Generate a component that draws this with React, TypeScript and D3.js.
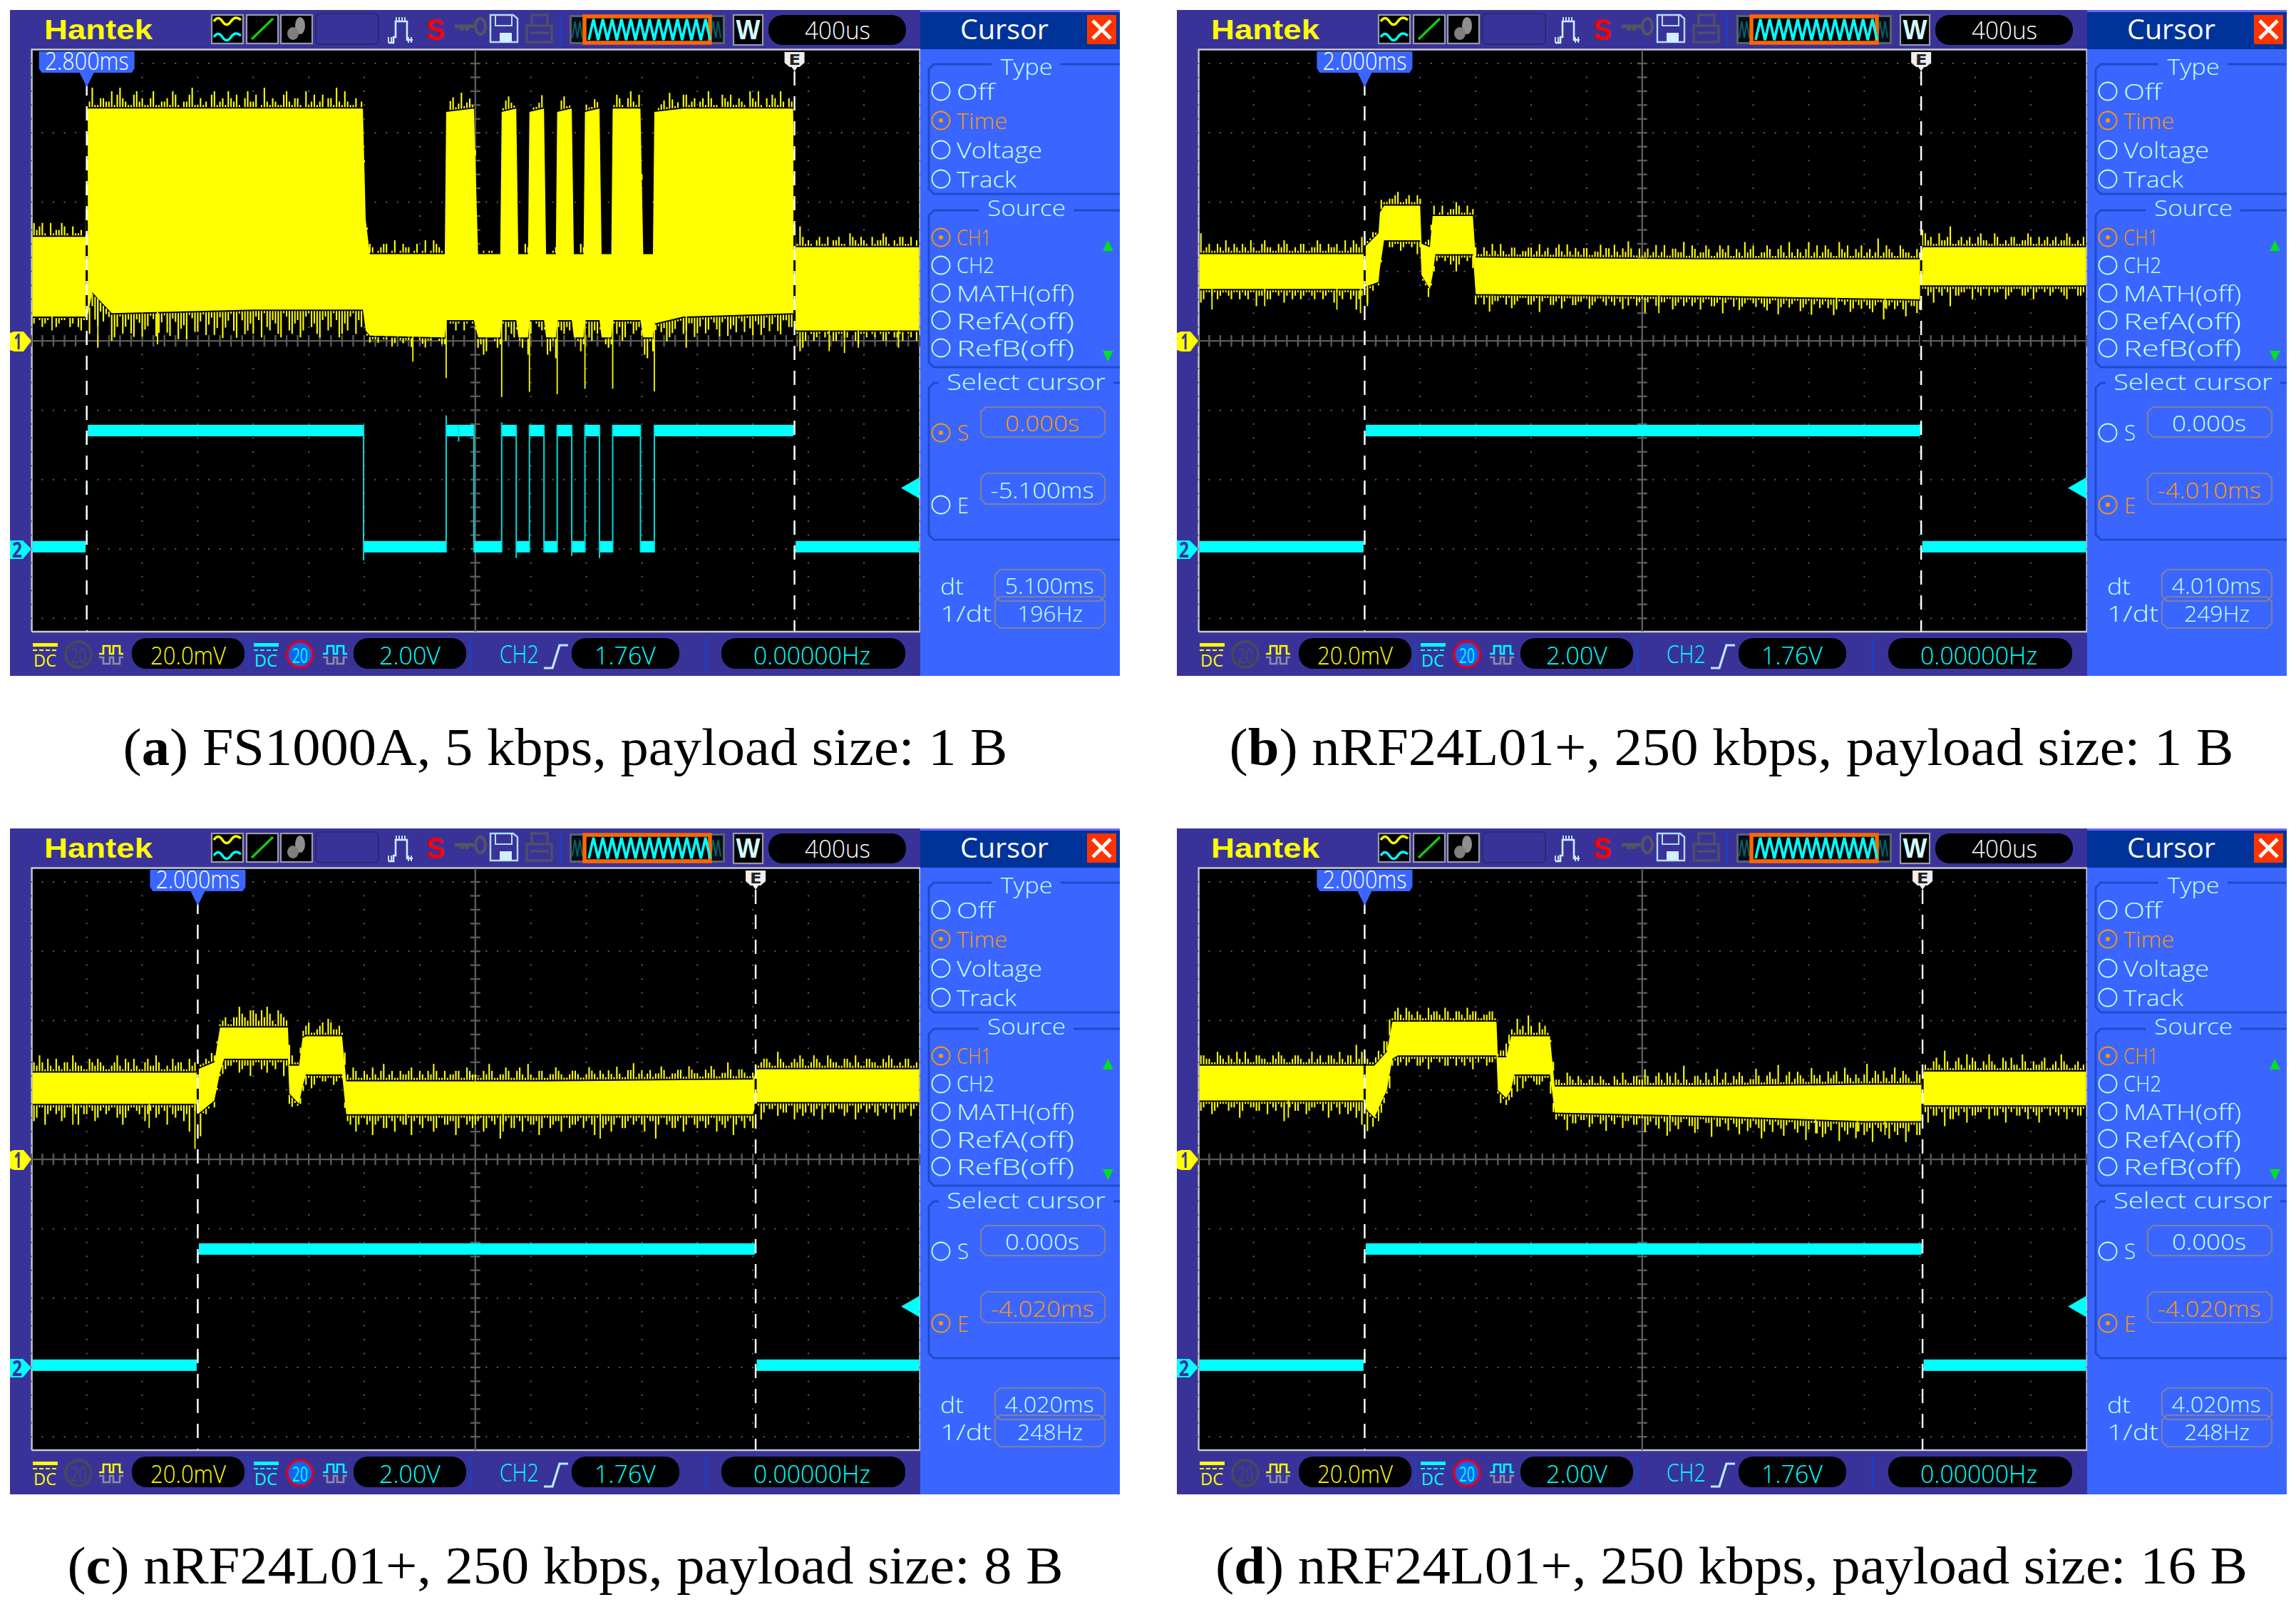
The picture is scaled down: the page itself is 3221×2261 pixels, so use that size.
import * as d3 from "d3";

type Row = [number, number, number];

// CH1 body of each capture: [time ms, top mV, bottom mV]
const bandA: Row[] = [
  [-3.2, 30, 7], [-2.81, 30, 7], [-2.8, 67, 6], [-2.76, 67, 14], [-2.62, 67, 8], [-1.6, 67, 9], [-0.81, 67, 9],
  [-0.79, 35, 3], [-0.76, 25, 1.5], [-0.22, 25, 1], [-0.21, 66, 6], [-0.01, 67, 6], [0.02, 25, 1],
  [0.18, 25, 1], [0.19, 66, 6], [0.295, 67, 6], [0.31, 25, 1], [0.38, 25, 1], [0.39, 66, 6], [0.495, 67, 6],
  [0.51, 25, 1], [0.58, 25, 1], [0.59, 66, 6], [0.695, 67, 6], [0.71, 25, 1], [0.78, 25, 1], [0.79, 66, 6],
  [0.895, 67, 6], [0.91, 25, 1], [0.98, 25, 1], [0.99, 67, 6], [1.19, 67, 6], [1.21, 25, 1], [1.28, 25, 1],
  [1.29, 66, 5], [1.5, 67, 7], [2.29, 67, 8], [2.31, 27, 3], [3.2, 27, 3],
];
const bandB: Row[] = [
  [-3.2, 25, 15], [-2.01, 25, 15], [-2, 27, 15.6], [-1.9, 31, 17], [-1.89, 37, 21], [-1.86, 39, 29],
  [-1.6, 39, 29], [-1.59, 28, 19], [-1.53, 27, 15], [-1.51, 36, 19], [-1.49, 36, 25], [-1.22, 36, 25],
  [-1.2, 24, 13.5], [0.5, 23.5, 13], [2, 23.5, 12], [2.02, 27, 16], [3.2, 27, 16],
];
const bandC: Row[] = [
  [-3.2, 25, 16], [-2.01, 25, 16], [-2, 26, 13], [-1.88, 28, 17], [-1.84, 38, 25], [-1.81, 38, 29], [-1.35, 38, 29],
  [-1.34, 27, 19], [-1.27, 27, 16], [-1.245, 35, 21], [-1.22, 35.5, 24.5], [-0.96, 35.5, 24.5],
  [-0.93, 22.5, 13], [0.5, 22.5, 13], [2, 23, 13], [2.03, 26, 16.5], [3.2, 26, 16.5],
];
const bandD: Row[] = [
  [-3.2, 27, 17], [-2.01, 27, 17], [-2, 27, 15], [-1.93, 27, 12], [-1.84, 31, 20], [-1.8, 39.7, 29], [-1.76, 39.7, 30],
  [-1.05, 39.7, 30], [-1.04, 29.4, 20], [-0.98, 29.4, 17.7], [-0.945, 35.5, 20], [-0.92, 35.5, 24.5], [-0.665, 35.5, 24.5],
  [-0.63, 21, 13.5], [0.5, 21, 12.5], [1.6, 21.5, 11], [2.01, 21.5, 11], [2.03, 25.3, 15.6], [3.2, 25.3, 15.6],
];

// Noise peaks above / below the body, mV, one every 0.02 ms across the screen
// (two runs that interleave)
const topA = [
  4, 3, 1, 4, 2, 4, 1, 3, 1, 0, 2, 1, 3, 2, 5, 4, 3, 1, 4, 2,
  1, 3, 1, 2, 3, 5, 1, 2, 4, 1, 3, 2, 4, 1, 3, 5, 2, 1, 3, 2,
  4, 1, 2, 3, 1, 4, 2, 3, 1, 5, 2, 1, 4, 3, 1, 2, 5, 1, 3, 2,
  1, 2, 1, 3, 0, 4, 1, 2, 0, 3, 1, 0, 4, 2, 0, 3, 1, 5, 2, 1,
  0, 1, 1, 0, 0, 3, 2, 0, 0, 2, 1, 2, 0, 0, 2, 3, 1, 0, 0, 2,
  1, 3, 0, 0, 0, 4, 1, 3, 2, 4, 0, 0, 0, 2, 1, 3, 2, 4, 1, 3,
  2, 1, 3, 1, 4, 2, 1, 3, 1, 5, 2, 1, 3, 4, 1, 2, 3, 0, 6, 1,
  1, 2, 1, 3, 2, 3, 1, 4, 2, 3, 1, 3, 2, 4, 1, 2, 3, 1, 3, 2,
];
const topA2 = [
  1, 2, 4, 0, 1, 2, 3, 0, 1, 2, 4, 6, 1, 3, 2, 1, 6, 2, 1, 5,
  3, 1, 5, 1, 2, 1, 4, 0, 2, 6, 1, 1, 0, 5, 2, 1, 3, 4, 0, 5,
  2, 0, 6, 1, 2, 1, 5, 1, 3, 0, 1, 4, 2, 0, 3, 6, 1, 2, 1, 0,
  1, 3, 0, 2, 3, 1, 0, 3, 2, 1, 0, 4, 1, 3, 1, 0, 4, 2, 1, 3,
  2, 0, 0, 1, 0, 1, 4, 1, 0, 3, 0, 1, 4, 0, 1, 0, 4, 1, 0, 3,
  2, 1, 2, 0, 0, 1, 3, 0, 5, 1, 2, 0, 0, 1, 3, 5, 1, 0, 4, 2,
  0, 3, 5, 1, 0, 3, 4, 1, 2, 0, 3, 5, 0, 1, 3, 5, 0, 2, 1, 3,
  2, 0, 3, 1, 0, 2, 1, 0, 3, 1, 2, 0, 1, 2, 3, 0, 1, 3, 1, 0,
];
const bottomA = [
  2, 1, 2, 0, 3, 1, 0, 2, 3, 1, 8, 7, 3, 2, 8, 4, 6, 2, 7, 3,
  5, 1, 7, 3, 6, 2, 8, 4, 1, 6, 3, 7, 2, 5, 8, 3, 6, 1, 7, 4,
  2, 8, 5, 3, 7, 1, 6, 4, 8, 2, 5, 7, 3, 6, 1, 8, 4, 2, 7, 5,
  1, 1, 2, 1, 0, 2, 1, 1, 3, 0, 2, 1, 0, 1, 2, 1, 3, 0, 1, 1,
  3, 5, 0, 1, 2, 6, 4, 1, 3, 5, 0, 2, 1, 4, 6, 3, 2, 0, 1, 2,
  5, 3, 1, 2, 2, 4, 6, 1, 4, 2, 5, 1, 2, 3, 6, 4, 1, 5, 2, 6,
  3, 5, 1, 4, 2, 6, 3, 1, 5, 4, 2, 6, 1, 3, 5, 2, 4, 1, 6, 3,
  1, 2, 0, 1, 3, 1, 2, 0, 3, 1, 2, 1, 0, 3, 1, 2, 1, 0, 2, 3,
];
const bottomA2 = [
  1, 0, 3, 1, 0, 2, 1, 3, 0, 4, 6, 4, 8, 5, 2, 7, 1, 4, 6, 2,
  7, 4, 2, 6, 1, 7, 3, 5, 8, 2, 6, 1, 4, 7, 2, 5, 1, 8, 3, 6,
  7, 3, 1, 6, 4, 8, 2, 7, 3, 6, 1, 4, 8, 2, 5, 3, 7, 6, 1, 3,
  0, 2, 1, 0, 1, 3, 0, 2, 1, 0, 1, 3, 1, 0, 2, 0, 1, 1, 3, 0,
  1, 2, 4, 0, 3, 1, 2, 5, 1, 0, 4, 1, 3, 5, 1, 2, 4, 3, 0, 4,
  1, 6, 4, 0, 3, 1, 2, 5, 1, 3, 2, 6, 4, 1, 2, 5, 3, 1, 4, 2,
  5, 1, 4, 2, 6, 1, 4, 5, 2, 1, 6, 3, 4, 5, 1, 6, 2, 4, 1, 5,
  0, 3, 1, 2, 0, 3, 1, 2, 0, 4, 1, 0, 2, 1, 3, 0, 2, 3, 1, 0,
];
const topB = [
  6, 2, 1, 3, 1, 2, 3, 1, 2, 4, 1, 3, 2, 1, 3, 4, 1, 2, 3, 1,
  2, 4, 1, 3, 2, 1, 4, 2, 3, 5, 1, 2, 0, 1, 2, 3, 1, 2, 1, 3,
  0, 2, 3, 1, 0, 2, 4, 1, 3, 2, 1, 3, 1, 2, 4, 1, 3, 1, 2, 3,
  1, 4, 2, 1, 3, 2, 4, 1, 2, 3, 1, 2, 4, 3, 1, 2, 3, 5, 1, 3,
  2, 1, 4, 2, 1, 3, 2, 5, 1, 3, 2, 4, 1, 2, 3, 4, 1, 2, 5, 3,
  1, 2, 4, 1, 3, 2, 5, 1, 2, 3, 1, 4, 2, 3, 1, 5, 2, 1, 3, 4,
  2, 1, 6, 2, 3, 1, 4, 2, 1, 3, 5, 2, 1, 4, 2, 6, 1, 3, 2, 1,
  3, 2, 1, 4, 1, 2, 3, 1, 2, 4, 1, 3, 2, 1, 3, 2, 4, 1, 2, 3,
];
const topB2 = [
  2, 1, 3, 1, 2, 4, 1, 2, 3, 1, 2, 1, 4, 2, 1, 2, 3, 1, 1, 3,
  1, 2, 3, 1, 2, 3, 1, 1, 4, 2, 3, 1, 1, 3, 1, 2, 4, 1, 3, 1,
  2, 1, 2, 0, 3, 1, 2, 3, 1, 1, 3, 1, 2, 4, 1, 2, 1, 3, 1, 2,
  3, 2, 1, 3, 1, 4, 1, 2, 3, 1, 3, 1, 2, 1, 3, 4, 1, 2, 3, 1,
  1, 3, 2, 1, 4, 1, 3, 2, 1, 4, 1, 2, 3, 1, 4, 2, 1, 3, 1, 2,
  4, 1, 2, 3, 1, 4, 1, 2, 3, 1, 5, 2, 1, 4, 2, 1, 3, 4, 1, 2,
  1, 3, 2, 1, 4, 2, 1, 3, 2, 1, 2, 4, 3, 1, 2, 3, 1, 2, 1, 3,
  1, 4, 2, 1, 3, 1, 1, 3, 1, 2, 3, 1, 1, 3, 2, 1, 2, 3, 1, 1,
];
const bottomB = [
  4, 1, 2, 3, 1, 2, 1, 3, 2, 1, 5, 2, 3, 1, 2, 4, 1, 2, 3, 1,
  2, 1, 3, 1, 4, 2, 1, 3, 6, 2, 5, 2, 1, 0, 2, 1, 3, 1, 2, 4,
  1, 3, 2, 1, 2, 3, 5, 1, 2, 4, 1, 3, 5, 2, 1, 3, 4, 2, 1, 3,
  2, 5, 1, 3, 2, 4, 1, 3, 2, 1, 4, 2, 1, 3, 2, 1, 4, 3, 1, 2,
  5, 1, 3, 2, 1, 4, 2, 3, 1, 2, 4, 1, 3, 2, 5, 1, 3, 4, 2, 1,
  3, 2, 4, 1, 5, 2, 3, 1, 4, 2, 5, 1, 2, 3, 5, 1, 2, 4, 1, 3,
  2, 4, 1, 6, 2, 3, 1, 5, 2, 4, 1, 3, 5, 2, 1, 6, 3, 2, 1, 4,
  2, 1, 3, 2, 1, 4, 2, 1, 3, 2, 4, 1, 2, 3, 1, 2, 4, 1, 3, 2,
];
const bottomB2 = [
  1, 3, 1, 1, 2, 1, 3, 1, 1, 3, 1, 2, 1, 3, 1, 1, 2, 3, 1, 2,
  1, 3, 1, 2, 1, 1, 3, 1, 2, 3, 1, 1, 0, 1, 0, 2, 1, 2, 1, 1,
  2, 1, 1, 2, 1, 1, 2, 3, 1, 1, 3, 1, 1, 3, 2, 1, 1, 3, 1, 1,
  3, 1, 2, 1, 3, 1, 2, 1, 3, 2, 1, 3, 1, 2, 1, 3, 2, 1, 1, 3,
  1, 2, 1, 3, 2, 1, 3, 1, 2, 3, 1, 2, 1, 3, 1, 2, 1, 1, 3, 1,
  2, 1, 3, 2, 1, 3, 1, 2, 1, 3, 1, 2, 3, 1, 2, 3, 1, 1, 3, 2,
  1, 3, 2, 1, 3, 1, 2, 3, 1, 2, 3, 1, 2, 1, 3, 2, 1, 3, 2, 1,
  1, 3, 1, 1, 2, 1, 3, 1, 1, 3, 1, 2, 1, 1, 2, 1, 3, 1, 1, 3,
];
const topC = [
  3, 5, 1, 2, 4, 1, 3, 5, 2, 1, 4, 2, 3, 1, 2, 5, 1, 3, 4, 1,
  3, 2, 5, 1, 2, 4, 3, 1, 4, 3, 1, 2, 3, 1, 2, 1, 3, 6, 3, 5,
  4, 5, 6, 2, 5, 3, 6, 1, 2, 3, 1, 2, 4, 5, 2, 3, 4, 1, 3, 1,
  2, 4, 1, 5, 2, 1, 3, 2, 4, 1, 2, 3, 5, 1, 3, 2, 3, 1, 4, 2,
  1, 3, 5, 1, 2, 4, 1, 3, 2, 5, 1, 3, 1, 2, 4, 2, 1, 3, 2, 1,
  4, 2, 3, 1, 2, 4, 1, 3, 5, 2, 1, 3, 2, 4, 1, 2, 3, 1, 4, 2,
  1, 3, 4, 1, 2, 5, 1, 3, 2, 1, 4, 2, 3, 1, 5, 2, 1, 3, 4, 1,
  2, 3, 1, 4, 2, 1, 3, 2, 4, 1, 3, 2, 1, 3, 4, 1, 2, 3, 1, 2,
];
const topC2 = [
  1, 2, 3, 4, 1, 2, 3, 1, 3, 2, 1, 3, 4, 2, 1, 3, 2, 4, 1, 2,
  1, 4, 2, 3, 1, 1, 2, 3, 1, 2, 4, 1, 1, 2, 1, 3, 1, 3, 4, 2,
  5, 2, 3, 4, 1, 4, 2, 3, 1, 2, 4, 1, 3, 1, 4, 2, 1, 2, 4, 1,
  3, 1, 2, 3, 1, 3, 1, 2, 3, 1, 3, 1, 2, 3, 1, 1, 2, 3, 1, 3,
  2, 1, 2, 3, 1, 2, 3, 1, 4, 1, 2, 1, 3, 1, 2, 3, 1, 2, 3, 1,
  2, 3, 1, 2, 3, 1, 2, 1, 3, 1, 3, 2, 1, 2, 3, 1, 2, 3, 1, 3,
  2, 1, 2, 3, 1, 2, 3, 1, 3, 1, 2, 1, 3, 2, 1, 3, 1, 2, 2, 3,
  1, 4, 2, 1, 3, 2, 1, 3, 1, 2, 1, 3, 2, 1, 2, 3, 1, 1, 3, 1,
];
const bottomC = [
  5, 1, 6, 2, 3, 5, 1, 2, 6, 3, 1, 5, 2, 3, 1, 4, 6, 2, 1, 3,
  5, 2, 4, 1, 6, 3, 2, 5, 8, 2, 7, 2, 0, 1, 3, 2, 1, 4, 2, 5,
  1, 3, 4, 2, 1, 5, 3, 1, 2, 3, 4, 1, 2, 1, 3, 1, 2, 3, 5, 1,
  3, 6, 2, 4, 1, 5, 2, 3, 6, 1, 4, 2, 5, 1, 3, 2, 6, 1, 3, 4,
  2, 5, 1, 3, 7, 2, 4, 1, 5, 2, 3, 6, 1, 4, 2, 5, 1, 3, 2, 4,
  1, 6, 2, 3, 5, 1, 4, 2, 3, 1, 5, 2, 7, 1, 3, 4, 2, 5, 1, 3,
  2, 4, 1, 5, 3, 2, 6, 1, 4, 2, 3, 5, 1, 2, 4, 3, 1, 5, 2, 3,
  3, 2, 5, 1, 3, 2, 4, 1, 5, 2, 3, 1, 4, 2, 1, 5, 3, 2, 4, 1,
];
const bottomC2 = [
  2, 4, 1, 3, 1, 2, 4, 1, 3, 1, 3, 2, 4, 1, 2, 1, 3, 4, 1, 2,
  1, 3, 1, 3, 2, 1, 4, 2, 3, 1, 2, 1, 1, 2, 1, 3, 2, 1, 3, 2,
  2, 1, 2, 1, 3, 1, 2, 3, 1, 2, 1, 3, 1, 2, 1, 2, 1, 2, 1, 3,
  1, 2, 3, 1, 4, 2, 1, 3, 1, 2, 3, 1, 2, 4, 1, 3, 2, 4, 1, 2,
  3, 1, 4, 2, 1, 3, 1, 4, 2, 1, 3, 2, 4, 1, 3, 2, 1, 4, 3, 1,
  2, 3, 1, 4, 2, 3, 1, 4, 1, 2, 3, 1, 2, 3, 1, 2, 4, 1, 3, 1,
  4, 2, 3, 1, 2, 4, 1, 3, 2, 1, 4, 1, 3, 2, 1, 2, 3, 1, 3, 4,
  1, 4, 1, 2, 3, 1, 2, 3, 1, 3, 1, 2, 3, 1, 3, 2, 1, 3, 1, 2,
];
const topD = [
  3, 2, 1, 4, 2, 3, 1, 2, 4, 1, 3, 2, 1, 3, 4, 2, 1, 3, 2, 1,
  4, 2, 1, 3, 2, 4, 1, 3, 6, 4, 2, 1, 3, 4, 5, 3, 2, 4, 2, 3,
  1, 4, 3, 2, 4, 1, 3, 2, 4, 3, 1, 2, 3, 1, 2, 4, 2, 5, 3, 6,
  1, 4, 3, 1, 2, 1, 4, 2, 3, 1, 2, 1, 3, 1, 0, 2, 4, 1, 3, 2,
  5, 1, 3, 2, 4, 1, 2, 6, 1, 3, 2, 4, 1, 5, 2, 1, 3, 4, 1, 2,
  5, 1, 3, 2, 6, 1, 4, 2, 3, 1, 5, 2, 1, 4, 3, 1, 5, 2, 3, 1,
  6, 2, 3, 4, 1, 5, 2, 3, 1, 4, 5, 1, 3, 2, 6, 1, 3, 2, 5, 4,
  1, 3, 5, 2, 1, 3, 4, 2, 5, 1, 3, 2, 4, 1, 3, 5, 2, 1, 3, 2,
];
const topD2 = [
  1, 3, 2, 1, 3, 1, 2, 4, 1, 2, 1, 3, 2, 1, 2, 3, 1, 2, 3, 1,
  2, 1, 3, 1, 3, 1, 2, 3, 1, 2, 3, 1, 2, 1, 3, 1, 4, 1, 3, 1,
  2, 1, 2, 3, 1, 3, 1, 3, 1, 2, 3, 1, 2, 3, 1, 2, 3, 1, 2, 1,
  3, 1, 2, 1, 3, 2, 1, 3, 1, 2, 1, 3, 1, 2, 1, 3, 1, 2, 1, 3,
  2, 3, 1, 4, 1, 3, 4, 1, 2, 1, 3, 1, 2, 3, 1, 4, 1, 2, 3, 1,
  2, 3, 1, 4, 2, 1, 3, 1, 4, 2, 1, 3, 3, 1, 2, 4, 1, 3, 1, 2,
  3, 1, 4, 1, 2, 3, 1, 4, 2, 1, 3, 2, 1, 4, 1, 3, 1, 4, 1, 2,
  3, 1, 2, 3, 1, 4, 1, 2, 1, 3, 1, 2, 3, 1, 2, 1, 3, 1, 2, 1,
];
const bottomD = [
  3, 1, 4, 2, 1, 3, 2, 5, 1, 2, 3, 1, 4, 2, 1, 6, 2, 3, 1, 4,
  2, 1, 3, 5, 1, 4, 2, 3, 5, 7, 6, 3, 2, 2, 4, 1, 2, 3, 1, 3,
  2, 4, 1, 2, 3, 1, 3, 2, 1, 4, 2, 1, 2, 1, 3, 2, 3, 5, 4, 1,
  2, 3, 1, 4, 2, 1, 5, 3, 1, 2, 4, 1, 3, 5, 2, 1, 4, 2, 3, 1,
  5, 2, 3, 1, 6, 2, 4, 1, 3, 5, 1, 2, 6, 3, 1, 4, 2, 5, 1, 3,
  2, 6, 1, 4, 2, 5, 1, 3, 2, 6, 1, 4, 5, 2, 1, 6, 3, 2, 5, 1,
  3, 6, 2, 1, 5, 3, 2, 6, 1, 4, 2, 5, 3, 1, 6, 4, 2, 1, 5, 3,
  2, 1, 4, 3, 1, 5, 2, 3, 1, 4, 2, 5, 1, 3, 2, 1, 4, 2, 3, 1,
];
const bottomD2 = [
  1, 2, 1, 3, 1, 1, 2, 1, 3, 1, 2, 3, 1, 1, 3, 2, 1, 1, 3, 1,
  3, 2, 1, 1, 3, 2, 1, 4, 2, 3, 2, 1, 1, 3, 1, 2, 3, 1, 2, 1,
  3, 1, 2, 1, 1, 3, 1, 1, 3, 2, 1, 1, 3, 2, 1, 1, 2, 3, 1, 2,
  1, 3, 2, 1, 3, 1, 2, 1, 3, 2, 1, 3, 1, 2, 1, 3, 1, 2, 1, 3,
  1, 3, 1, 4, 2, 1, 3, 2, 1, 3, 4, 1, 2, 1, 3, 2, 1, 3, 2, 4,
  1, 3, 4, 2, 1, 3, 2, 1, 4, 2, 3, 1, 2, 4, 3, 1, 2, 4, 2, 3,
  4, 2, 1, 3, 2, 1, 4, 2, 3, 1, 4, 2, 1, 3, 2, 1, 4, 3, 2, 1,
  3, 2, 1, 1, 3, 2, 1, 1, 3, 2, 1, 3, 2, 1, 1, 3, 2, 1, 1, 3,
];

// Long dips of CH1: [time ms, lowest mV]
const dipsA: [number, number][] = [
  [-3.05, 3], [-2.72, -2], [-2.29, -1], [-0.45, -6], [-0.21, -10.7], [0.19, -16.2], [0.39, -14.7], [0.59, -15.4],
  [0.79, -13.8], [0.99, -13.8], [1.29, -14.6], [1.52, -2], [2.55, -3], [2.66, -3.5], [2.76, -2], [3.05, -2],
];
const dipsB: [number, number][] = [[-3.1, 9], [-2.72, 10], [-2.2, 9], [-2.03, 8], [-1.98, 10], [0.12, 8], [1.4, 9], [1.75, 9.5]];
const dipsC: [number, number][] = [[-2.9, 10], [-2.35, 9], [-2.02, 3], [-0.5, 10], [0.2, 8], [0.9, 6]];
const dipsD: [number, number][] = [[-2.55, 12], [-2, 10], [-1.9, 11], [0.2, 8], [1.25, 7.5], [1.55, 8], [1.75, 7]];

// CH2 edges, ms: rise, fall, rise, ...
const edgesA = [-2.8, -0.805, -0.21, -0.01, 0.19, 0.295, 0.39, 0.495, 0.59, 0.695, 0.79, 0.895, 0.99, 1.19, 1.29, 2.3];
const edgesB = [-2.0, 2.01];
const edgesC = [-2.0, 2.02];
const edgesD = [-2.0, 2.02];
const glitchesA: [number, number][] = [[-0.805, -0.33], [-0.21, 3.85], [0.295, -0.26], [0.19, 3.65], [0.695, -0.2], [0.895, -0.26], [-0.12, 3.1]];
const ch2High = [3.25, 3.58];
const ch2Low = [-0.1, 0.23];

const cursorStart = [-2.8, -2.0, -2.0, -2.0];
const cursorEnd = [2.3, 2.01, 2.02, 2.02];
const startLabels = ["2.800ms", "2.000ms", "2.000ms", "2.000ms"];
const endValues = ["-5.100ms", "-4.010ms", "-4.020ms", "-4.020ms"];
const dtValues = ["5.100ms", "4.010ms", "4.020ms", "4.020ms"];
const freqValues = ["196Hz", "249Hz", "248Hz", "248Hz"];
const captionLetters = ["a", "b", "c", "d"];
const captionTexts = [
  "FS1000A, 5 kbps, payload size: 1 B",
  "nRF24L01+, 250 kbps, payload size: 1 B",
  "nRF24L01+, 250 kbps, payload size: 8 B",
  "nRF24L01+, 250 kbps, payload size: 16 B",
];

const bands = [bandA, bandB, bandC, bandD];
const tops = [topA, topB, topC, topD];
const tops2 = [topA2, topB2, topC2, topD2];
const bottoms = [bottomA, bottomB, bottomC, bottomD];
const bottoms2 = [bottomA2, bottomB2, bottomC2, bottomD2];
const dips = [dipsA, dipsB, dipsC, dipsD];
const edges = [edgesA, edgesB, edgesC, edgesD];
const glitches = [glitchesA, [], [], []] as [number, number][][];

const panelDx = [0, 1637, 0, 1637];
const panelDy = [0, 0, 1148, 1148];
const captionX = [793, 2429, 793, 2429];
const captionWidth = [1241, 1409, 1397, 1448];

// scales
const xTime = d3.scaleLinear().domain([-3.2, 3.2]).range([43.8, 1289.8]);
const yCh1 = d3.scaleLinear().domain([-80, 80]).range([867.2, 89]);
const yCh2 = d3.scaleLinear().domain([0, 2]).range([770, 672.7]);

const PURPLE = "#393399";
const BLUE = "#3A66FF";
const ICE = "#CCFFFF";
const ORANGE = "#FF9900";
const YELLOW = "#FFFF00";
const CYAN = "#00FFFF";
const LCD = "'Open Sans', 'Liberation Sans', sans-serif";

const bodyArea = d3
  .area<Row>()
  .x((d) => xTime(d[0]))
  .y0((d) => yCh1(d[2]))
  .y1((d) => yCh1(d[1]));

// body limit at time t, column 1 = top, 2 = bottom
const bandAt = (band: Row[], t: number, col: 1 | 2) => {
  const i = Math.min(d3.bisectRight(band.map((r) => r[0]), t), band.length - 1);
  const a = band[Math.max(i - 1, 0)];
  const b = band[i];
  if (b[0] === a[0]) return b[col];
  return d3.interpolateNumber(a[col], b[col])((t - a[0]) / (b[0] - a[0]));
};

const spikePath = (band: Row[], values: number[], col: 1 | 2, sign: number, shift: number) => {
  const p = d3.path();
  values.forEach((v, i) => {
    if (!v) return;
    const t = -3.2 + 0.04 * i + shift;
    const edge = bandAt(band, t, col);
    p.moveTo(xTime(t), yCh1(edge) + sign * 2);
    p.lineTo(xTime(t), yCh1(edge + (sign < 0 ? v : -v)));
  });
  return p.toString();
};

const dotPath = (xs: number[], ys: number[]) => {
  let s = "";
  xs.forEach((x) => ys.forEach((y) => (s += `M${x - 1} ${y - 1}h2v2h-2z`)));
  return s;
};

const tenths = d3.range(0, 81).map((k) => -3.2 + k * 0.08);
const divsX = d3.range(0, 17).map((k) => -3.2 + k * 0.4);
const rowsV = d3.range(-80, 81, 20);
const stepsV = d3.range(-80, 81, 4);

const gridDots =
  dotPath(tenths.map(xTime), rowsV.map(yCh1)) + dotPath(divsX.map(xTime), stepsV.map(yCh1));

const Txt = ({ x, y, w, size, fill = ICE, anchor = "start", weight = 300, family = LCD, children }: any) => (
  <text
    x={x}
    y={y}
    fontSize={size}
    fill={fill}
    textAnchor={anchor}
    fontWeight={weight}
    fontFamily={family}
    textLength={w}
    lengthAdjust="spacingAndGlyphs"
  >
    {children}
  </text>
);

const Radio = ({ cy, on }: { cy: number; on: boolean }) => (
  <g>
    <circle cx={1320} cy={cy} r={12.5} fill="none" stroke={on ? ORANGE : ICE} strokeWidth={1.8} />
    {on && <circle cx={1320} cy={cy} r={3} fill={ORANGE} />}
  </g>
);

const GroupBox = ({ top, bottom, gap }: { top: number; bottom: number; gap: [number, number] }) => (
  <path
    d={`M${gap[0]} ${top}H1310L1303 ${top + 7}V${bottom - 7}L1310 ${bottom}H1571M${gap[1]} ${top}H1571`}
    fill="none"
    stroke="#2149c9"
    strokeWidth={3}
  />
);

const ValueBox = ({ x0, x1, y0, y1 }: { x0: number; x1: number; y0: number; y1: number }) => (
  <path
    d={`M${x0 + 7} ${y0}H${x1 - 7}L${x1} ${y0 + 7}V${y1 - 7}L${x1 - 7} ${y1}H${x0 + 7}L${x0} ${y1 - 7}V${y0 + 7}Z`}
    fill="none"
    stroke="#7f7f9f"
    strokeWidth={2.2}
  />
);

const memoryWave = d3
  .line<number>()
  .x((k) => 826 + k * 6.55)
  .y((k) => (k % 2 ? 27 : 56))(d3.range(0, 27)) as string;

const sideWave = (x0: number) =>
  d3
    .line<number>()
    .x((k) => x0 + k * 3.5)
    .y((k) => (k % 2 ? 30 : 53))(d3.range(0, 5)) as string;

const CouplingIcon = ({ x, color }: { x: number; color: string }) => (
  <g fill="none" strokeWidth={2.6}>
    <path d={`M${x} 917h6v-11h9v11h5v-11h9v11h5`} stroke={color} />
    <path d={`M${x} 922h6v9h9v-9h5v9h9v-9h5`} stroke="#8d8da8" />
  </g>
);

const DcIcon = ({ x, color }: { x: number; color: string }) => (
  <g>
    <rect x={x} y={902} width={35} height={5} fill={color} />
    <path d={`M${x} 912H${x + 35}`} stroke={color} strokeWidth={2} strokeDasharray="6 3" />
    <Txt x={x + 17} y={935} w={32} size={24} fill={color} anchor="middle" weight={400}>
      DC
    </Txt>
  </g>
);

const Pill = ({ x0, x1, y0 = 895, y1 = 938 }: any) => (
  <rect x={x0} y={y0} width={x1 - x0} height={y1 - y0} rx={20} fill="#000" />
);

const Scope = ({ i }: { i: number }) => {
  const band = bands[i];
  const sx = xTime(cursorStart[i]);
  const ex = xTime(cursorEnd[i]);
  const clip = `screen-${i}`;
  const ed = edges[i];
  const selS = i === 0;
  const highY = yCh2(ch2High[1]);
  const highH = yCh2(ch2High[0]) - highY;
  const lowY = yCh2(ch2Low[1]);
  const lowH = yCh2(ch2Low[0]) - lowY;
  const allEdges = [-3.2, ...ed, 3.2];
  return (
    <g transform={`translate(${panelDx[i]},${panelDy[i]})`}>
      <rect x={14} y={14} width={1557} height={934} fill={PURPLE} />

      {/* screen */}
      <rect x={44.6} y={70} width={1246} height={816} fill="#000" />
      <path d="M44.6 886V69.5H1290.6V886H44.6" fill="none" stroke="#c9c9d2" strokeWidth={2.4} />
      <clipPath id={clip}>
        <rect x={45.6} y={71} width={1244} height={814} />
      </clipPath>
      <path d={gridDots} fill="#5f5f5f" />
      <g stroke="#5a5a5a" strokeWidth={2.4}>
        <line x1={xTime(0)} x2={xTime(0)} y1={70} y2={886} />
        <line x1={44.6} x2={1290.6} y1={yCh1(0)} y2={yCh1(0)} />
        {stepsV.map((v) => (
          <line key={v} x1={xTime(0) - 7} x2={xTime(0) + 7} y1={yCh1(v)} y2={yCh1(v)} />
        ))}
        {tenths.map((t) => (
          <line key={t} x1={xTime(t)} x2={xTime(t)} y1={yCh1(0) - 8} y2={yCh1(0) + 8} />
        ))}
      </g>

      {/* CH1 */}
      <g clipPath={`url(#${clip})`}>
        <path d={bodyArea(band) as string} fill={YELLOW} />
        <g stroke={YELLOW} strokeWidth={2.1} fill="none">
          <path d={spikePath(band, tops[i], 1, -1, 0.02)} />
          <path d={spikePath(band, tops2[i], 1, -1, 0)} />
          <path d={spikePath(band, bottoms[i], 2, 1, 0.02)} />
          <path d={spikePath(band, bottoms2[i], 2, 1, 0)} />
        </g>
        {dips[i].map(([t, v]) => (
          <line key={t} x1={xTime(t)} x2={xTime(t)} y1={yCh1(bandAt(band, t, 2))} y2={yCh1(v)} stroke={YELLOW} strokeWidth={1.8} />
        ))}

        {/* CH2 */}
        {allEdges.slice(0, -1).map((t, k) => (
          <rect
            key={t}
            x={xTime(t)}
            width={xTime(allEdges[k + 1]) - xTime(t)}
            y={k % 2 ? highY : lowY}
            height={k % 2 ? highH : lowH}
            fill={CYAN}
          />
        ))}
        {ed.map((t) => (
          <line key={t} x1={xTime(t)} x2={xTime(t)} y1={highY} y2={lowY + lowH} stroke="#00dcdc" strokeWidth={2} />
        ))}
        {glitches[i].map(([t, v]) => (
          <line key={t} x1={xTime(t)} x2={xTime(t)} y1={yCh2(v)} y2={v > 1 ? highY : lowY + lowH} stroke="#00dcdc" strokeWidth={2} />
        ))}
      </g>

      {/* cursors */}
      {[sx, ex].map((cx, k) => (
        <g key={k}>
          <line x1={cx} x2={cx} y1={k ? 100 : 114} y2={886} stroke="#000" strokeWidth={3} strokeDasharray="20 15" strokeDashoffset={-20} />
          <line x1={cx} x2={cx} y1={k ? 100 : 114} y2={886} stroke="#fff" strokeWidth={2.4} strokeDasharray="20 15" />
        </g>
      ))}
      <path
        d={`M${sx - 67} 72H${sx + 67}V96L${sx + 63} 102H${sx + 10}L${sx} 122L${sx - 10} 102H${sx - 63}L${sx - 67} 96Z`}
        fill={BLUE}
      />
      <Txt x={sx} y={98} w={118} size={34} fill="#fff" anchor="middle">
        {startLabels[i]}
      </Txt>
      <path d={`M${ex - 14} 73H${ex + 14}V88L${ex + 7} 94H${ex + 4}L${ex} 100L${ex - 4} 94H${ex - 7}L${ex - 14} 88Z`} fill="#eee" />
      <Txt x={ex} y={91} w={17} size={22} fill="#222" anchor="middle" weight={700}>
        E
      </Txt>

      {/* channel markers */}
      <path d={`M14 ${yCh1(0) - 11}L20 ${yCh1(0) - 13}H33L44 ${yCh1(0)}L33 ${yCh1(0) + 15}H20L14 ${yCh1(0) + 13}Z`} fill={YELLOW} />
      <Txt x={25} y={yCh1(0) + 12} w={11} size={30} fill={PURPLE} anchor="middle" weight={700}>
        1
      </Txt>
      <path d={`M14 ${yCh2(0) - 12}H32L44 ${yCh2(0)}L32 ${yCh2(0) + 14}H14Z`} fill={CYAN} />
      <Txt x={24} y={yCh2(0) + 12} w={14} size={30} fill={PURPLE} anchor="middle" weight={700}>
        2
      </Txt>
      <path d={`M1290 ${yCh2(1.76) - 15}V${yCh2(1.76) + 15}L1264 ${yCh2(1.76)}Z`} fill={CYAN} />

      {/* top bar */}
      <Txt x={62} y={55} w={152} size={38} fill={YELLOW} weight={700} family="'Liberation Sans', sans-serif">
        Hantek
      </Txt>
      {[297, 346, 394].map((bx) => (
        <rect key={bx} x={bx} y={21} width={44} height={40} fill="#000" stroke="#9a9aa8" strokeWidth={2.2} />
      ))}
      <path d="M300 30q6 -9 12 0t12 0t14 -2" fill="none" stroke={YELLOW} strokeWidth={3.4} />
      <path d="M300 52q6 -9 12 0t12 0t14 -2" fill="none" stroke={CYAN} strokeWidth={3.4} />
      <line x1={353} y1={55} x2={383} y2={26} stroke="#11cc11" strokeWidth={3.4} />
      <ellipse cx={421} cy={36} rx={7} ry={12} fill="#8f8f8f" />
      <ellipse cx={411} cy={47} rx={8} ry={9} fill="#7f7f7f" />
      <rect x={443} y={19} width={88} height={43} rx={6} fill="none" stroke="#2a2a70" strokeWidth={2} />
      <path d="M545 60h7v-8h3V30h16v26h8" fill="none" stroke="#cfefff" strokeWidth={2.6} />
      <path d="M556 24v6m4 -6v6m4 -6v6m4 -6v6M545 52v8m4 -8v8M573 52v8m4 -8v8" stroke="#cfefff" strokeWidth={1.8} />
      <Txt x={611} y={56} w={26} size={42} fill="#ff0000" anchor="middle" weight={700} family="'Liberation Sans', sans-serif">
        S
      </Txt>
      <path d="M638 37H665M648 37v6M655 37v6" stroke="#55555f" strokeWidth={5} fill="none" />
      <ellipse cx={674} cy={37} rx={7} ry={11} fill="none" stroke="#55555f" strokeWidth={4} />
      <path d="M688 21h32l6 5v33h-38z" fill="none" stroke="#b4ddf2" strokeWidth={2.4} />
      <rect x={701} y={46} width={17} height={13} fill="#cfefff" />
      <path d="M695 22v14h23V22" fill="none" stroke="#b4ddf2" strokeWidth={2} />
      <path d="M746 35V21h22v14M739 36h35v23h-35zM744 46h26" fill="none" stroke="#4f4f66" strokeWidth={3.4} />
      <line x1={786} x2={786} y1={17} y2={66} stroke="#1144cc" strokeWidth={2} />
      <rect x={799} y={21} width={218} height={41} fill="#60606a" />
      <rect x={802} y={24} width={212} height={35} fill="#041018" />
      <path d={sideWave(803)} fill="none" stroke="#0d5c66" strokeWidth={2} />
      <path d={sideWave(997)} fill="none" stroke="#0d5c66" strokeWidth={2} />
      <rect x={820} y={23} width={176} height={37} fill="#000" stroke="#FF6600" strokeWidth={5.5} />
      <path d={memoryWave} fill="none" stroke={CYAN} strokeWidth={3.6} />
      <rect x={1029} y={21} width={41} height={42} fill="#000" stroke="#9a9aa8" strokeWidth={2.2} />
      <Txt x={1049.5} y={55} w={34} size={38} fill="#d4ffff" anchor="middle" weight={700} family="'Liberation Sans', sans-serif">
        W
      </Txt>
      <rect x={1078} y={21} width={193} height={42} rx={20} fill="#000" />
      <Txt x={1175} y={55} w={92} size={34} fill="#fff" anchor="middle">
        400us
      </Txt>

      {/* bottom bar */}
      <DcIcon x={46} color={YELLOW} />
      <ellipse cx={110} cy={918} rx={18} ry={18} fill="none" stroke="#4a4a55" strokeWidth={3.4} />
      <Txt x={110} y={930} w={22} size={30} fill="#4a4a55" anchor="middle" weight={400}>
        20
      </Txt>
      <CouplingIcon x={139} color={YELLOW} />
      <Pill x0={185} x1={343} />
      <Txt x={264} y={932} w={106} size={34} fill={YELLOW} anchor="middle">
        20.0mV
      </Txt>
      <line x1={348.5} x2={348.5} y1={893} y2={943} stroke="#1144cc" strokeWidth={2} />
      <DcIcon x={356} color={CYAN} />
      <ellipse cx={421} cy={918} rx={18} ry={18} fill="#1166ee" stroke="#dd0022" strokeWidth={3.4} />
      <Txt x={421} y={930} w={22} size={30} fill={CYAN} anchor="middle" weight={400}>
        20
      </Txt>
      <CouplingIcon x={453} color={CYAN} />
      <Pill x0={496} x1={654} />
      <Txt x={575} y={932} w={86} size={34} fill={CYAN} anchor="middle">
        2.00V
      </Txt>
      <line x1={660} x2={660} y1={893} y2={943} stroke="#1144cc" strokeWidth={2} />
      <Txt x={701} y={930} w={55} size={34} fill={CYAN}>
        CH2
      </Txt>
      <path d="M763 937H775L785 905H797" fill="none" stroke="#bfeaff" strokeWidth={3.2} />
      <Pill x0={802} x1={953} />
      <Txt x={877} y={932} w={86} size={34} fill={CYAN} anchor="middle">
        1.76V
      </Txt>
      <line x1={990} x2={990} y1={893} y2={943} stroke="#1144cc" strokeWidth={2} />
      <Pill x0={1012} x1={1270} />
      <Txt x={1139} y={932} w={164} size={34} fill={CYAN} anchor="middle">
        0.00000Hz
      </Txt>

      {/* cursor menu */}
      <rect x={1291} y={14} width={280} height={934} fill={BLUE} />
      <rect x={1291} y={17} width={280} height={52} fill="#003399" />
      <rect x={1291} y={14} width={280} height={3} fill="#6a66ff" />
      <Txt x={1409} y={55} w={124} size={38} fill="#fff" anchor="middle" weight={400}>
        Cursor
      </Txt>
      <rect x={1525} y={21} width={41} height={41} fill="#FF3300" />
      <path d="M1533 29L1558 54M1558 29L1533 54" stroke="#fff" strokeWidth={5} />

      <GroupBox top={90} bottom={272} gap={[1391, 1488]} />
      <Txt x={1440} y={105} w={73} size={31} anchor="middle">
        Type
      </Txt>
      {[["Off", 53, 128, 140], ["Time", 71, 169, 181], ["Voltage", 120, 210, 222], ["Track", 84, 251, 263]].map(([s, w, cy, by]: any) => (
        <g key={s}>
          <Radio cy={cy} on={s === "Time"} />
          <Txt x={1342} y={by} w={w} size={31} fill={s === "Time" ? ORANGE : ICE}>
            {s}
          </Txt>
        </g>
      ))}
      <GroupBox top={295} bottom={515} gap={[1373, 1506]} />
      <Txt x={1440} y={303} w={110} size={31} anchor="middle">
        Source
      </Txt>
      {[["CH1", 49, 333, 344], ["CH2", 53, 372, 383], ["MATH(off)", 165, 411, 423], ["RefA(off)", 165, 449, 462], ["RefB(off)", 165, 488, 500]].map(([s, w, cy, by]: any) => (
        <g key={s}>
          <Radio cy={cy} on={s === "CH1"} />
          <Txt x={1342} y={by} w={w} size={31} fill={s === "CH1" ? ORANGE : ICE}>
            {s}
          </Txt>
        </g>
      ))}
      <path d="M1554 337L1562 352H1547Z" fill="#00e020" />
      <path d="M1547 492H1562L1554 507Z" fill="#00e020" />

      <GroupBox top={537} bottom={757} gap={[1317, 1562]} />
      <Txt x={1328} y={547} w={223} size={31}>
        Select cursor
      </Txt>
      <Radio cy={607} on={selS} />
      <Txt x={1343} y={618} w={16} size={31} fill={selS ? ORANGE : ICE}>
        S
      </Txt>
      <ValueBox x0={1376} x1={1550} y0={571} y1={613} />
      <Txt x={1462} y={605} w={104} size={31} fill={selS ? ORANGE : ICE} anchor="middle">
        0.000s
      </Txt>
      <Radio cy={708} on={!selS} />
      <Txt x={1343} y={720} w={16} size={31} fill={selS ? ICE : ORANGE}>
        E
      </Txt>
      <ValueBox x0={1376} x1={1550} y0={664} y1={707} />
      <Txt x={1462} y={699} w={145} size={31} fill={selS ? ICE : ORANGE} anchor="middle">
        {endValues[i]}
      </Txt>

      <Txt x={1319} y={834} w={33} size={31}>
        dt
      </Txt>
      <Txt x={1319} y={872} w={72} size={31}>
        1/dt
      </Txt>
      <ValueBox x0={1396} x1={1550} y0={799} y1={843} />
      <ValueBox x0={1396} x1={1550} y0={837} y1={881} />
      <Txt x={1472} y={833} w={125} size={31} anchor="middle">
        {dtValues[i]}
      </Txt>
      <Txt x={1473} y={872} w={92} size={31} anchor="middle">
        {freqValues[i]}
      </Txt>

      {/* caption */}
      <text
        x={captionX[i] - panelDx[i]}
        y={1073}
        fontSize={74}
        fontFamily="'Liberation Serif', serif"
        textAnchor="middle"
        textLength={captionWidth[i]}
        lengthAdjust="spacingAndGlyphs"
        fill="#000"
      >
        (<tspan fontWeight={700}>{captionLetters[i]}</tspan>) {captionTexts[i]}
      </text>
    </g>
  );
};

export default function App() {
  return (
    <svg
      width={3221}
      height={2261}
      viewBox="0 0 3221 2261"
      style={{ position: "absolute", left: 0, top: 0, background: "#fff" }}
    >
      {[0, 1, 2, 3].map((i) => (
        <Scope key={i} i={i} />
      ))}
    </svg>
  );
}
